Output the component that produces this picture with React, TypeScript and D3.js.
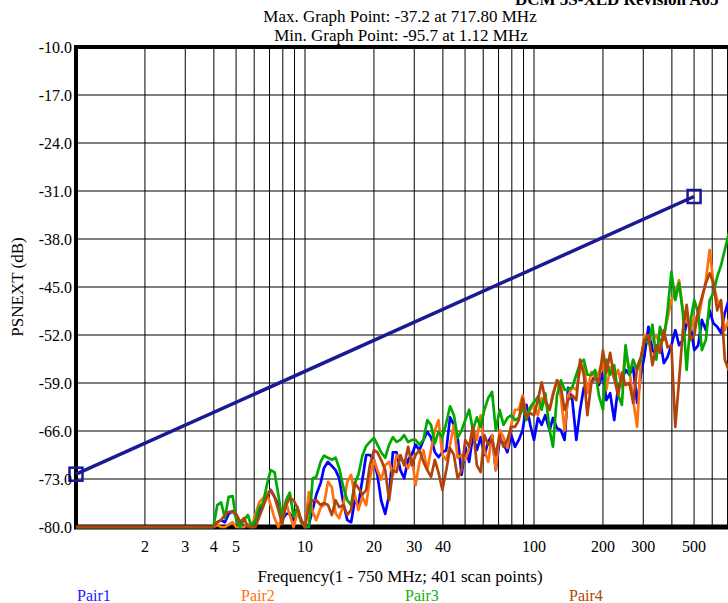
import React, { useRef, useEffect } from 'react';
import * as d3 from 'd3';

// scan frequencies (MHz)
const freqs = [
  1, 1.5, 2, 2.5, 3,
  3.55, 3.69, 3.83, 3.98, 4.14, 4.30, 4.47, 4.64, 4.83, 5.01, 5.21, 5.41, 5.63, 5.85, 6.07, 6.31, 6.56, 6.81, 7.08, 7.36,
  7.65, 7.95, 8.26, 8.58, 8.92, 9.27, 9.63, 10.0, 10.4, 10.8, 11.2, 11.7, 12.1, 12.6, 13.1, 13.6, 14.1, 14.7, 15.3, 15.9,
  16.5, 17.1, 17.8, 18.5, 19.2, 20.0, 20.7, 21.5, 22.4, 23.3, 24.2, 25.1, 26.1, 27.1, 28.2, 29.3, 30.4, 31.6, 32.9, 34.2,
  35.5, 36.9, 38.3, 39.8, 41.4, 43.0, 44.7, 46.4, 48.3, 50.1, 52.1, 54.1, 56.3, 58.5, 60.7, 63.1, 65.6, 68.1, 70.8, 73.6,
  76.5, 79.5, 82.6, 85.8, 89.2, 92.7, 96.3, 100, 104, 108, 112, 117, 121, 126, 131, 136, 141, 147, 153, 159,
  165, 171, 178, 185, 192, 200, 207, 215, 224, 233, 242, 251, 261, 271, 282, 293, 304, 316, 329, 342,
  355, 369, 383, 398, 414, 430, 447, 464, 483, 501, 521, 541, 563, 585, 607, 631, 656, 681, 708, 736, 750,
];

const pair1 = [
  -95.7, -92, -90, -89, -88,
  -87, -86, -85, -84, -79.3, -79.0, -79.3, -78.1, -77.7, -78.4,
  -79.3, -81, -79.6, -82, -79.3, -77.8, -76.8, -75.3, -74.6, -75.6,
  -76.8, -79.0, -78.1, -78.0, -79.0, -78.0, -79.0, -82, -79.6, -77.5,
  -75.3, -73.6, -71.4, -70.5, -71.1, -71.7, -72.9, -76.5, -79.0, -79.3,
  -76.1, -76.8, -73.1, -69.5, -69.5, -70.2, -72.4, -76.1, -78.1, -75.3,
  -69.1, -69.1, -71.7, -72.9, -70.2, -69.4, -68.0, -68.8, -67.3, -66.1,
  -66.9, -69.1, -69.8, -69.1, -68.8, -64.0, -65.1, -66.9, -72.4, -68.3,
  -70.5, -66.6, -68.8, -66.9, -69.5, -67.6, -66.6, -71.7, -67.3, -67.8,
  -69.1, -66.6, -68.3, -67.3, -65.9, -62.2, -65.1, -67.3, -64.1, -65.1,
  -63.7, -65.9, -64.1, -65.6, -65.9, -67.3, -59.7, -61.5, -67.3, -62.9,
  -59.7, -59.3, -59.0, -57.8, -59.3, -57.5, -61.5, -60.5, -64.4, -59.6,
  -58.6, -57.1, -57.8, -56.7, -61.9, -57.8, -54.9, -50.8, -54.2, -54.9,
  -52.7, -56.1, -55.2, -53.5, -51.3, -53.5, -52.7, -50.3, -50.8, -54.2,
  -53.5, -49.8, -51.3, -48.4, -50.3, -50.8, -51.7, -48.8, -46.9, -46.2,
  -46.2,
];

const pair2 = [
  -94, -91, -89, -88, -87,
  -88, -86, -86, -81, -79.7, -81, -82, -79.7, -79.3, -81,
  -82, -83, -79.6, -82, -78.25, -76.4, -75.8, -75.0, -76.8, -78.7,
  -81, -78.5, -76.4, -78.25, -81, -77.8, -79.3, -83, -74.9, -77.8,
  -79.0, -77.2, -76.8, -73.4, -74.2, -78.0, -78.7, -76.8, -73.4, -72.4,
  -75.3, -77.5, -75.6, -76.8, -72.9, -70.2, -71.7, -73.1, -71.0, -70.5,
  -72.4, -69.5, -70.2, -70.5, -71.4, -69.9, -73.9, -70.5, -68.8, -71.7,
  -68.8, -65.9, -64.4, -69.5, -70.2, -68.0, -65.1, -69.9, -69.5, -70.2,
  -68.5, -65.4, -67.3, -63.7, -68.8, -70.5, -66.6, -71.7, -65.9, -66.9,
  -68.5, -65.1, -62.9, -62.9, -60.8, -63.7, -62.9, -62.2, -63.7, -61.2,
  -61.9, -62.9, -60.5, -58.6, -61.0, -65.9, -60.8, -59.6, -60.0, -57.1,
  -56.4, -60.5, -57.4, -58.3, -57.4, -55.6, -60.0, -56.7, -58.3, -57.1,
  -59.6, -54.2, -57.1, -61.5, -65.4, -55.6, -52.0, -52.3, -52.7, -52.0,
  -53.5, -52.0, -49.5, -46.9, -45.9, -44.0, -48.4, -49.8, -51.3, -49.4,
  -49.8, -46.9, -44.0, -39.6, -44.4, -46.9, -47.9, -51.3, -49.8, -48.4,
  -46.9,
];

const pair3 = [
  -93, -91, -90, -88, -86,
  -85, -84, -83, -80.5, -76.8, -76.4, -78.7, -75.6, -75.5, -79.0,
  -80.5, -79.0, -78.25, -81, -79.0, -77.1, -76.5, -73.9, -71.7, -72.0,
  -75.3, -79.0, -76.1, -75.0, -78.5, -77.1, -79.3, -81, -80.5, -72.9,
  -72.7, -70.5, -69.6, -69.9, -70.2, -69.9, -71.4, -74.2, -76.1, -76.8,
  -73.6, -72.4, -69.6, -68.2, -67.6, -67.0, -68.0, -69.1, -69.9, -68.0,
  -66.9, -67.6, -67.3, -66.6, -67.6, -67.3, -67.3, -68.0, -67.3, -64.4,
  -65.1, -67.8, -66.1, -66.9, -64.8, -62.4, -63.7, -67.0, -65.9, -64.4,
  -62.9, -65.9, -64.0, -65.4, -62.9, -61.2, -60.3, -65.9, -62.9, -65.1,
  -64.1, -63.7, -64.4, -64.1, -62.6, -64.4, -62.5, -61.8, -61.0, -62.9,
  -60.5, -65.9, -68.3, -60.8, -58.6, -60.0, -60.0, -59.6, -57.8, -56.1,
  -55.6, -57.8, -57.8, -57.1, -60.8, -62.9, -55.6, -57.8, -56.4, -60.8,
  -62.2, -53.5, -57.8, -55.6, -57.1, -55.6, -52.7, -53.2, -50.5, -55.6,
  -50.8, -52.7, -48.4, -42.8, -46.9, -44.4, -48.8, -57.1, -49.8, -46.9,
  -48.8, -54.2, -52.7, -46.9, -45.9, -43.5, -41.8, -39.6, -37.2, -37.8,
  -38.2,
];

const pair4 = [
  -94, -92, -90, -89, -87,
  -86, -85, -84, -80.8, -79.3, -79.0, -78.25, -77.8, -77.8, -78.1,
  -79.3, -78.7, -80.5, -82, -81, -78.5, -77.1, -75.6, -74.6, -75.6,
  -77.5, -79.6, -76.8, -75.8, -76.1, -77.2, -79.0, -81, -76.8, -76.1,
  -76.1, -76.8, -76.5, -76.8, -78.25, -76.1, -77.1, -76.8, -78.25, -77.5,
  -73.6, -74.3, -75.3, -74.6, -71.0, -68.8, -69.1, -70.2, -71.7, -76.1,
  -71.7, -72.0, -69.5, -71.0, -68.3, -71.0, -69.5, -68.8, -70.5, -71.7,
  -72.7, -70.2, -72.1, -74.6, -71.7, -68.5, -69.5, -72.9, -71.7, -67.3,
  -68.3, -65.4, -71.0, -72.0, -66.6, -68.0, -67.3, -69.5, -66.6, -68.3,
  -67.3, -65.4, -65.4, -64.4, -61.2, -64.1, -63.4, -63.7, -61.5, -58.9,
  -61.5, -62.9, -60.8, -58.6, -59.6, -62.9, -61.5, -60.8, -61.5, -55.6,
  -57.8, -63.7, -59.0, -58.3, -58.9, -54.2, -57.5, -54.6, -58.3, -60.8,
  -57.5, -59.3, -59.0, -61.9, -56.7, -55.2, -52.7, -52.0, -56.4, -53.5,
  -54.6, -51.3, -53.8, -53.5, -65.4, -58.6, -51.3, -47.6, -52.7, -52.0,
  -48.4, -46.5, -44.4, -43.0, -44.4, -48.4, -46.9, -55.6, -57.1, -52.7,
  -51.3,
];

// PSNEXT limit line
const limitFreqs = [1, 500];
const limitVals = [-72.3, -31.8];

const yTicks = [-10, -17, -24, -31, -38, -45, -52, -59, -66, -73, -80];
const xTickVals = [2, 3, 4, 5, 10, 20, 30, 40, 100, 200, 300, 500];
const xGridVals = [2, 3, 4, 5, 6, 7, 8, 9, 10, 20, 30, 40, 50, 60, 70, 80, 90, 100, 200, 300, 400, 500, 600, 700];

const seriesNames = ['Pair1', 'Pair2', 'Pair3', 'Pair4'];
const seriesData = [pair1, pair2, pair3, pair4];
const seriesColors = ['#0000ff', '#ff7010', '#00aa00', '#b0440a'];
const legendColors = ['#1a1aff', '#ff7010', '#10b010', '#b0440a'];

const W = 728;
const H = 603;
const FONT = "'Liberation Serif', 'Times New Roman', serif";

const App: React.FC = () => {
  const svgRef = useRef<SVGSVGElement>(null);

  useEffect(() => {
    if (!svgRef.current) return;
    const svg = d3.select(svgRef.current);
    svg.selectAll('*').remove();

    const left = 76, top = 47, bottom = 527;
    const x = d3.scaleLog().domain([1, 750]).range([left, 734.4]);
    const y = d3.scaleLinear().domain([-80, -10]).range([bottom, top]).clamp(true);
    const right = x(750);

    // Horizontal grid
    svg.append('g')
      .selectAll('line')
      .data(yTicks.slice(1, -1))
      .enter().append('line')
      .attr('x1', left).attr('x2', right)
      .attr('y1', d => y(d)).attr('y2', d => y(d))
      .attr('stroke', '#808080')
      .attr('stroke-width', 2);

    // Vertical grid
    svg.append('g')
      .selectAll('line')
      .data(xGridVals)
      .enter().append('line')
      .attr('x1', d => x(d)).attr('x2', d => x(d))
      .attr('y1', top).attr('y2', bottom)
      .attr('stroke', '#000')
      .attr('stroke-width', 1);

    // Frame
    svg.append('line').attr('x1', left - 2).attr('x2', right).attr('y1', top).attr('y2', top)
      .attr('stroke', '#000').attr('stroke-width', 4);
    svg.append('line').attr('x1', left).attr('x2', left).attr('y1', top - 2).attr('y2', bottom + 2)
      .attr('stroke', '#000').attr('stroke-width', 4);
    svg.append('line').attr('x1', left - 2).attr('x2', right).attr('y1', bottom).attr('y2', bottom)
      .attr('stroke', '#000').attr('stroke-width', 5);

    // Series
    const line = d3.line<number>()
      .x((_, i) => x(freqs[i]))
      .y(d => y(d));

    seriesData.forEach((vals, si) => {
      svg.append('path')
        .datum(vals)
        .attr('d', line)
        .attr('fill', 'none')
        .attr('stroke', seriesColors[si])
        .attr('stroke-width', 2.7)
        .attr('stroke-linejoin', 'round');
    });

    // Limit line
    const limitLine = d3.line<number>()
      .x((_, i) => x(limitFreqs[i]))
      .y(d => y(d));
    svg.append('path')
      .datum(limitVals)
      .attr('d', limitLine)
      .attr('fill', 'none')
      .attr('stroke', '#1a1a94')
      .attr('stroke-width', 3.5);
    svg.append('g')
      .selectAll('rect')
      .data(limitVals)
      .enter().append('rect')
      .attr('x', (_, i) => x(limitFreqs[i]) - 6.5)
      .attr('y', d => y(d) - 6.5)
      .attr('width', 13).attr('height', 13)
      .attr('fill', 'none')
      .attr('stroke', '#1a1a94')
      .attr('stroke-width', 2.5);

    const text = (tx: number, ty: number, s: string, anchor = 'middle', size = 16) =>
      svg.append('text')
        .attr('x', tx).attr('y', ty)
        .attr('text-anchor', anchor)
        .attr('font-family', FONT)
        .attr('font-size', size)
        .attr('fill', '#000')
        .text(s);

    // Y tick labels
    yTicks.forEach(t => text(72, y(t) + 6, t.toFixed(1), 'end'));

    // X tick labels
    xTickVals.forEach(t => text(x(t), 552, String(t)));

    // Titles
    text(515, 5, 'DCM 5S-XLD Revision A05', 'start', 17).attr('font-weight', 'bold');
    text(400, 22, 'Max. Graph Point: -37.2 at 717.80 MHz', 'middle', 17);
    text(401, 41, 'Min. Graph Point: -95.7 at 1.12 MHz', 'middle', 17);
    text(400, 582, 'Frequency(1 - 750 MHz; 401 scan points)', 'middle', 17);
    text(0, 0, 'PSNEXT (dB)', 'middle', 17).attr('transform', 'translate(23,287) rotate(-90)');

    // Legend
    seriesNames.forEach((n, i) => {
      text(77 + i * 164, 601, n, 'start').attr('fill', legendColors[i]);
    });
  }, []);

  return (
    <svg
      ref={svgRef}
      width={W}
      height={H}
      style={{ position: 'absolute', left: 0, top: 0, background: '#fff', display: 'block' }}
    />
  );
};

export default App;
